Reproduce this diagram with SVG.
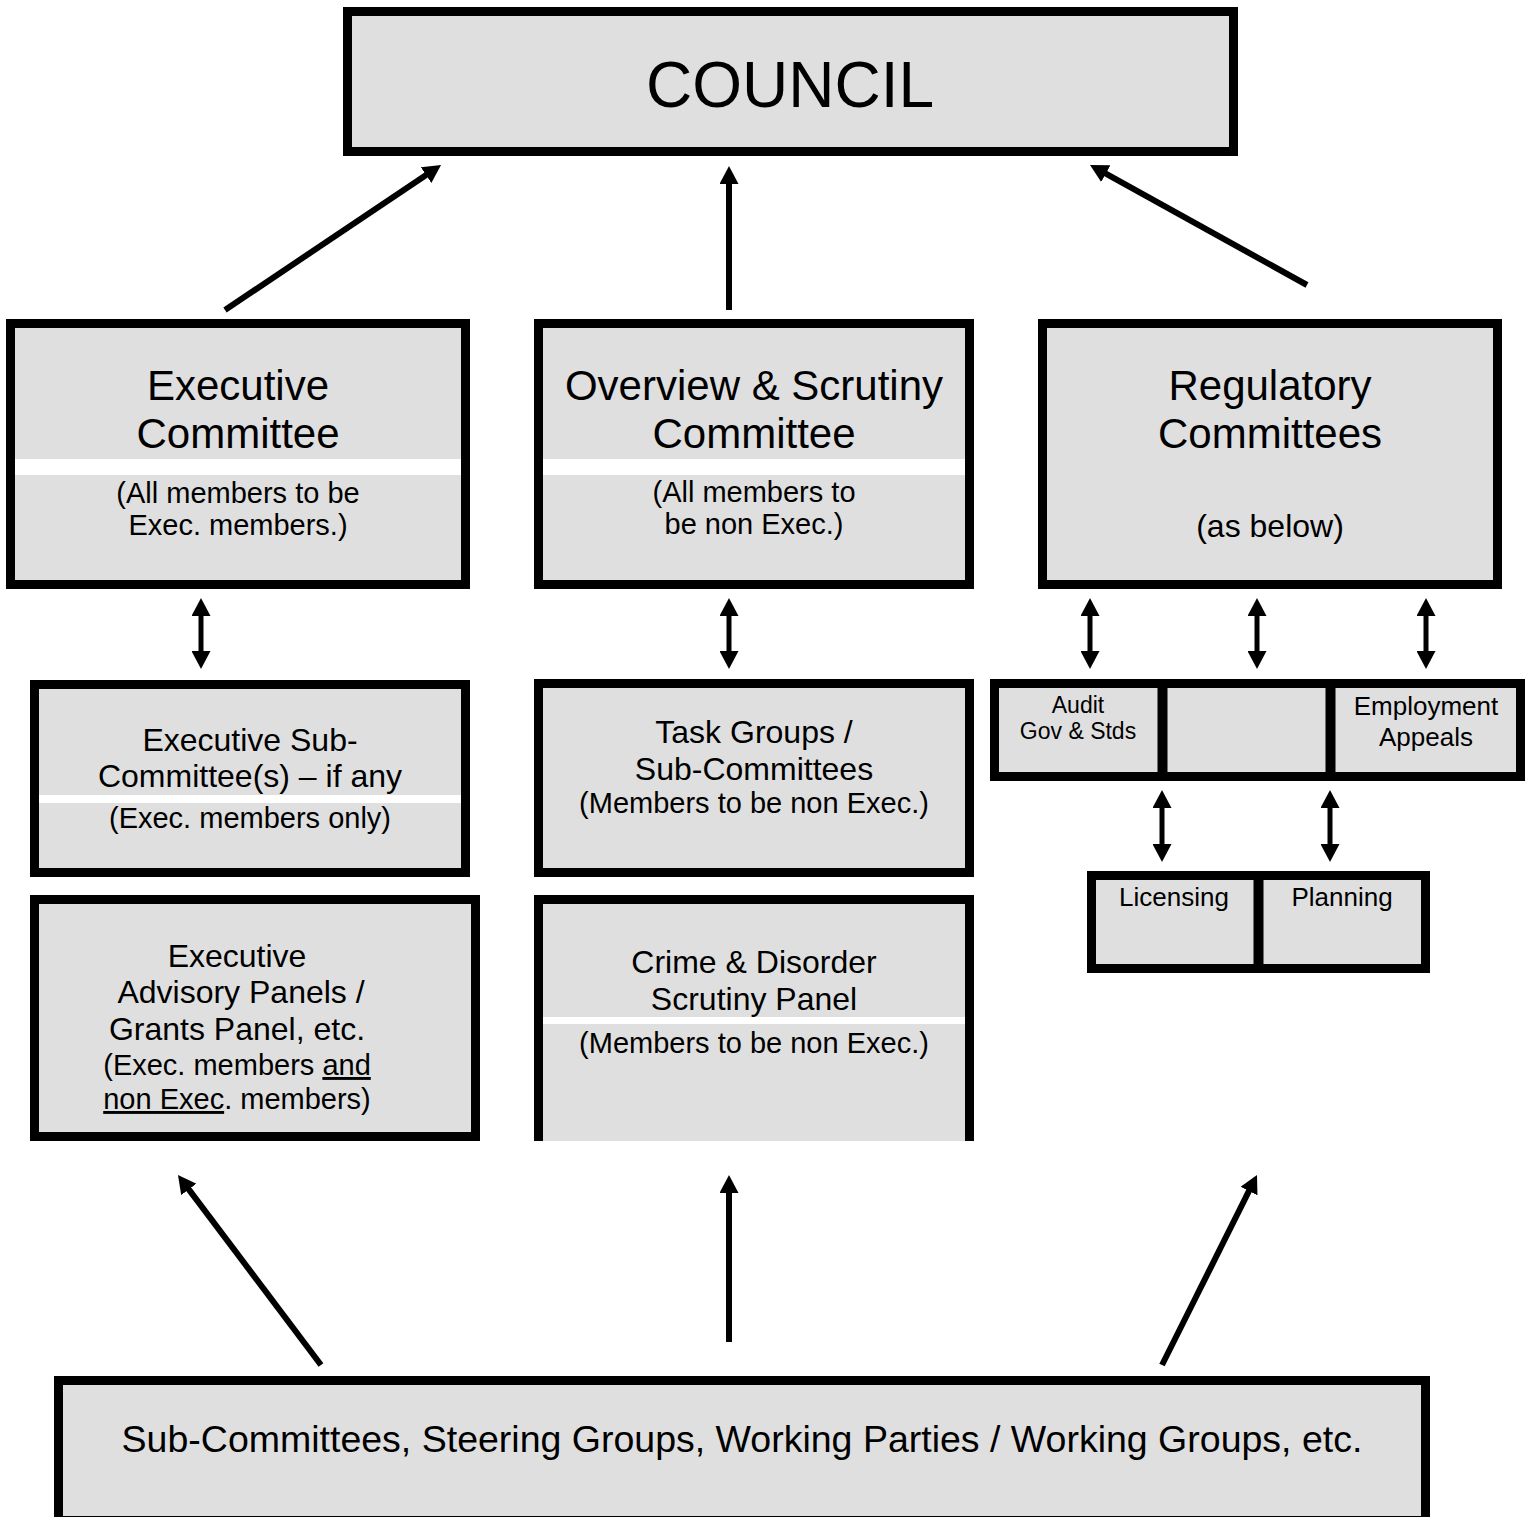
<svg xmlns="http://www.w3.org/2000/svg" width="1525" height="1517" viewBox="0 0 1525 1517">
<style>
.box{fill:#dfdfdf;stroke:#000;stroke-width:9}
.fill{fill:#dfdfdf}
.bd{fill:none;stroke:#000;stroke-width:9}
.div{stroke:#000;stroke-width:10}
.stripe{fill:#fff}
text{font-family:"Liberation Sans",Arial,sans-serif;fill:#000;text-anchor:middle}
.h42{font-size:42px}
.h32{font-size:32px}
.s29{font-size:29px}
.s26{font-size:26px}
.s23{font-size:23px}
.u{text-decoration:underline}
.arr{stroke:#000;stroke-width:6;fill:none;marker-end:url(#ah)}
.dbl{stroke:#000;stroke-width:5;fill:none;marker-end:url(#ah);marker-start:url(#ah)}
</style>
<defs>
<marker id="ah" markerUnits="userSpaceOnUse" markerWidth="18" markerHeight="19" refX="1" refY="9.5" orient="auto-start-reverse" viewBox="0 0 18 19">
<path d="M0,0 L18,9.5 L0,19 Z" fill="#000"/>
</marker>
</defs>
<g id="connectors">
<line class="arr" x1="225" y1="310" x2="426.9" y2="174.5"/>
<line class="arr" x1="729" y1="310" x2="729" y2="183"/>
<line class="arr" x1="1307" y1="285" x2="1104.9" y2="173.2"/>
<line class="dbl" x1="201" y1="615" x2="201" y2="652"/>
<line class="dbl" x1="729" y1="615" x2="729" y2="652"/>
<line class="dbl" x1="1090" y1="615" x2="1090" y2="652"/>
<line class="dbl" x1="1257" y1="615" x2="1257" y2="652"/>
<line class="dbl" x1="1426" y1="615" x2="1426" y2="652"/>
<line class="dbl" x1="1162" y1="807" x2="1162" y2="845"/>
<line class="dbl" x1="1330" y1="807" x2="1330" y2="845"/>
<line class="arr" x1="321" y1="1365" x2="188.2" y2="1188.6"/>
<line class="arr" x1="729" y1="1342" x2="729" y2="1192"/>
<line class="arr" x1="1162" y1="1365" x2="1249.4" y2="1190.2"/>
</g>
<g id="council">
<rect class="box" x="347.5" y="11.5" width="886" height="140"/>
<text x="790" y="107" style="font-size:64px">COUNCIL</text>
</g>
<g id="executive-committee">
<rect class="box" x="10.5" y="323.5" width="455" height="261"/>
<rect class="stripe" x="15" y="459" width="446" height="16"/>
<text class="h42" x="238" y="400">Executive</text>
<text class="h42" x="238" y="448">Committee</text>
<text class="s29" x="238" y="503">(All members to be</text>
<text class="s29" x="238" y="535">Exec. members.)</text>
</g>
<g id="overview-scrutiny">
<rect class="box" x="538.5" y="323.5" width="431" height="261"/>
<rect class="stripe" x="543" y="459" width="422" height="16"/>
<text class="h42" x="754" y="400">Overview &amp; Scrutiny</text>
<text class="h42" x="754" y="448">Committee</text>
<text class="s29" x="754" y="502">(All members to</text>
<text class="s29" x="754" y="534">be non Exec.)</text>
</g>
<g id="regulatory-committees">
<rect class="box" x="1042.5" y="323.5" width="455" height="261"/>
<text class="h42" x="1270" y="400">Regulatory</text>
<text class="h42" x="1270" y="448">Committees</text>
<text class="h32" x="1270" y="537">(as below)</text>
</g>
<g id="executive-sub-committees">
<rect class="box" x="34.5" y="684.5" width="431" height="188"/>
<rect class="stripe" x="39" y="795" width="422" height="8"/>
<text class="h32" x="250" y="751">Executive Sub-</text>
<text class="h32" x="250" y="787">Committee(s) – if any</text>
<text class="s29" x="250" y="828">(Exec. members only)</text>
</g>
<g id="task-groups">
<rect class="box" x="538.5" y="683.5" width="431" height="189"/>
<text class="h32" x="754" y="743">Task Groups /</text>
<text class="h32" x="754" y="780">Sub-Committees</text>
<text class="s29" x="754" y="813">(Members to be non Exec.)</text>
</g>
<g id="executive-advisory-panels">
<rect class="box" x="34.5" y="899.5" width="441" height="237"/>
<text class="h32" x="237" y="967">Executive</text>
<text class="h32" x="241" y="1003">Advisory Panels /</text>
<text class="h32" x="237" y="1040">Grants Panel, etc.</text>
<text class="s29" x="237" y="1075">(Exec. members <tspan class="u">and</tspan></text>
<text class="s29" x="237" y="1109"><tspan class="u">non Exec</tspan>. members)</text>
</g>
<g id="crime-disorder-panel">
<rect class="fill" x="534" y="895" width="440" height="246"/>
<path class="bd" d="M538.5,1141 V899.5 H969.5 V1141"/>
<rect class="stripe" x="543" y="1017" width="422" height="7"/>
<text class="h32" x="754" y="973">Crime &amp; Disorder</text>
<text class="h32" x="754" y="1010">Scrutiny Panel</text>
<text class="s29" x="754" y="1053">(Members to be non Exec.)</text>
</g>
<g id="regulatory-row">
<rect class="box" x="994.5" y="683.5" width="526" height="93"/>
<line class="div" x1="1162.5" y1="679" x2="1162.5" y2="781"/>
<line class="div" x1="1330.5" y1="679" x2="1330.5" y2="781"/>
<g id="audit">
<text class="s23" x="1078" y="713">Audit</text>
<text class="s23" x="1078" y="739">Gov &amp; Stds</text>
</g>
<g id="employment-appeals">
<text class="s26" x="1426" y="715">Employment</text>
<text class="s26" x="1426" y="746">Appeals</text>
</g>
</g>
<g id="licensing-planning">
<rect class="box" x="1091.5" y="875.5" width="334" height="93"/>
<line class="div" x1="1258.5" y1="871" x2="1258.5" y2="973"/>
<g id="licensing"><text class="s26" x="1174" y="906">Licensing</text></g>
<g id="planning"><text class="s26" x="1342" y="906">Planning</text></g>
</g>
<g id="sub-committees-groups">
<rect class="box" x="58.5" y="1380.5" width="1367" height="140"/>
<text x="742" y="1452" style="font-size:37.5px">Sub-Committees, Steering Groups, Working Parties / Working Groups, etc.</text>
</g>
</svg>
